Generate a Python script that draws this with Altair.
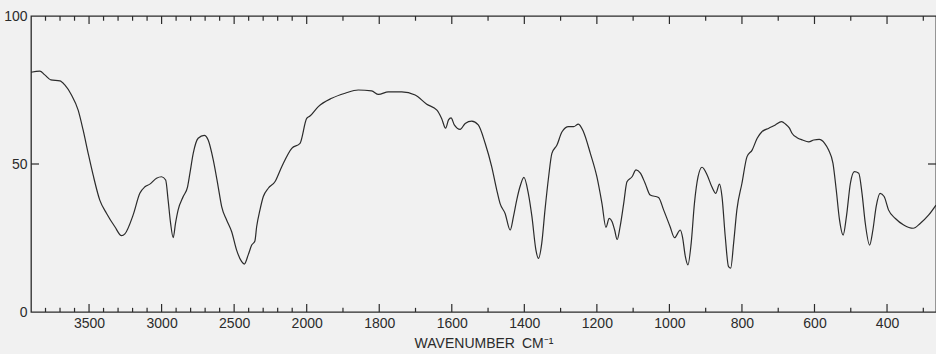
import altair as alt
import pandas as pd

wavenumber = [3900, 3839, 3805, 3763, 3701, 3667, 3621, 3575, 3541, 3506, 3472, 3426, 3379, 3322,
              3276, 3253, 3196, 3150, 3115, 3081, 3035, 3000, 2972, 2955, 2938, 2920, 2904, 2886,
              2851, 2821, 2805, 2782, 2748, 2706, 2679, 2644, 2610, 2586, 2552, 2517, 2483, 2448,
              2430, 2403, 2379, 2357, 2345, 2322, 2299, 2265, 2219, 2172, 2103, 2046, 2000, 1991,
              1968, 1931, 1894, 1858, 1821, 1802, 1775, 1738, 1701, 1669, 1641, 1628, 1617, 1609,
              1602, 1593, 1577, 1563, 1545, 1527, 1508, 1490, 1476, 1467, 1453, 1439, 1430, 1421,
              1412, 1401, 1389, 1379, 1368, 1361, 1352, 1343, 1333, 1324, 1310, 1296, 1278, 1264,
              1251, 1237, 1218, 1200, 1186, 1175, 1166, 1158, 1151, 1144, 1136, 1126, 1117, 1103,
              1092, 1080, 1067, 1053, 1030, 1016, 998, 986, 970, 964, 956, 949, 940, 931, 921, 910,
              896, 883, 872, 862, 855, 846, 837, 831, 823, 814, 800, 786, 772, 758, 745, 726, 708,
              691, 680, 669, 662, 648, 633, 616, 602, 587, 572, 561, 549, 540, 531, 521, 512, 501,
              490, 478, 469, 460, 448, 439, 430, 419, 408, 396, 377, 354, 328, 308, 285, 265]
transmittance = [81.0, 81.4, 80.1, 78.4, 78.1, 76.7, 73.3, 68.2, 61.5, 53.6, 46.3, 37.8, 33.3, 28.8,
                 25.8, 26.4, 32.8, 40.1, 42.3, 43.2, 45.2, 45.7, 44.6, 37.8, 30.0, 25.1, 30.0, 34.5,
                 39.0, 42.3, 46.8, 53.6, 58.7, 59.7, 58.1, 51.4, 42.3, 35.6, 31.1, 27.1, 20.9, 17.0,
                 16.2, 19.3, 22.6, 24.0, 28.8, 34.5, 39.0, 41.8, 44.0, 49.1, 55.3, 57.0, 65.4, 66.2,
                 69.4, 72.2, 73.9, 75.0, 74.7, 73.5, 74.4, 74.4, 73.3, 70.2, 68.2, 65.4, 62.1, 64.9,
                 65.6, 63.2, 61.7, 63.7, 64.5, 63.2, 57.0, 49.1, 41.2, 36.7, 33.3, 27.7, 32.2, 37.8,
                 42.3, 45.5, 40.1, 32.2, 20.9, 18.1, 23.2, 34.5, 45.7, 53.6, 56.4, 60.9, 62.6, 62.6,
                 63.5, 60.9, 53.6, 45.7, 36.7, 28.6, 31.6, 30.5, 27.7, 24.5, 28.8, 36.7, 44.0, 45.7,
                 48.0, 46.9, 43.5, 39.5, 38.7, 34.5, 28.8, 25.1, 27.7, 25.4, 18.7, 15.9, 23.2, 36.7,
                 45.7, 48.9, 46.3, 42.3, 40.1, 43.2, 39.0, 25.4, 15.3, 14.8, 23.2, 34.5, 43.5, 52.5,
                 54.7, 58.7, 60.9, 62.1, 63.2, 64.3, 63.5, 62.1, 60.4, 58.9, 58.1, 57.5, 58.1, 58.3,
                 57.0, 54.7, 50.2, 41.2, 31.1, 26.0, 32.2, 43.5, 47.4, 46.9, 40.1, 30.0, 22.6, 27.7,
                 35.6, 40.1, 39.0, 34.5, 31.6, 29.4, 28.3, 30.0, 32.8, 36.1]

major_ticks = [3500, 3000, 2500, 2000, 1800, 1600, 1400, 1200, 1000, 800, 600, 400]
minor_ticks = [3800, 3700, 3600, 3400, 3300, 3200, 3100, 2900, 2800, 2700, 2600, 2400, 2300,
               2200, 2100, 1900, 1700, 1500, 1300, 1100, 900, 700, 500, 300]
y_labels = [0, 50, 100]
side_ticks = [50]

W, H = 905, 296
INK = "#2b2b2b"
FONT = "Liberation Sans"

spec = pd.DataFrame({"wn": wavenumber, "T": transmittance})
ticks = pd.DataFrame({"wn": major_ticks + minor_ticks,
                      "kind": ["major"] * len(major_ticks) + ["minor"] * len(minor_ticks)})
side = pd.DataFrame({"t": side_ticks})

x_scale = alt.Scale(domain=[3900, 2000, 265], range=[0, 275.7, W], nice=False, zero=False)
y_scale = alt.Scale(domain=[0, 100], nice=False, zero=False)

x_axis = alt.Axis(values=major_ticks, format="d", grid=False, ticks=False, domain=False,
                  labelFont=FONT, labelFontSize=14, labelColor=INK, labelPadding=4,
                  labelFlush=False, labelOverlap=False,
                  title="WAVENUMBER\u2002CM\u207b\u00b9", titleFont=FONT, titleFontSize=14,
                  titleFontWeight="normal", titleColor=INK, titlePadding=6)
y_axis = alt.Axis(values=y_labels, format="d", grid=False, ticks=False, domain=False,
                  labelFont=FONT, labelFontSize=14, labelColor=INK, labelPadding=4,
                  labelFlush=False, labelOverlap=False, title=None)

line = alt.Chart(spec).mark_line(color=INK, strokeWidth=1.2, interpolate="monotone").encode(
    x=alt.X("wn:Q", scale=x_scale, axis=x_axis, sort=None),
    y=alt.Y("T:Q", scale=y_scale, axis=y_axis),
    order=alt.Order("idx:Q"),
).transform_window(idx="row_number()")

bottom = alt.Chart(ticks).mark_rule(color=INK, strokeWidth=1.2).transform_calculate(
    y0="0", y1="datum.kind == 'major' ? 2.7 : 1.4"
).encode(x=alt.X("wn:Q", scale=x_scale, axis=x_axis),
         y=alt.Y("y0:Q", scale=y_scale, axis=y_axis), y2="y1:Q")

top = alt.Chart(ticks).mark_rule(color=INK, strokeWidth=1.2).transform_calculate(
    y0="100", y1="datum.kind == 'major' ? 97.3 : 98.4"
).encode(x=alt.X("wn:Q", scale=x_scale, axis=x_axis),
         y=alt.Y("y0:Q", scale=y_scale, axis=y_axis), y2="y1:Q")

left_tick = alt.Chart(side).mark_rule(color=INK, strokeWidth=1.2).encode(
    x=alt.value(0), x2=alt.value(8), y=alt.Y("t:Q", scale=y_scale, axis=y_axis))
right_tick = alt.Chart(side).mark_rule(color=INK, strokeWidth=1.2).encode(
    x=alt.value(W - 8), x2=alt.value(W), y=alt.Y("t:Q", scale=y_scale, axis=y_axis))

chart = alt.layer(line, bottom, top, left_tick, right_tick).properties(
    width=W, height=H,
    autosize=alt.AutoSizeParams(type="none"),
    padding={"left": 31, "top": 16, "right": 0, "bottom": 42},
    background="#f1f1f1",
).configure_view(stroke=INK, strokeWidth=1.3)

chart.save("out.html", embed_options={"renderer": "svg", "actions": False})
